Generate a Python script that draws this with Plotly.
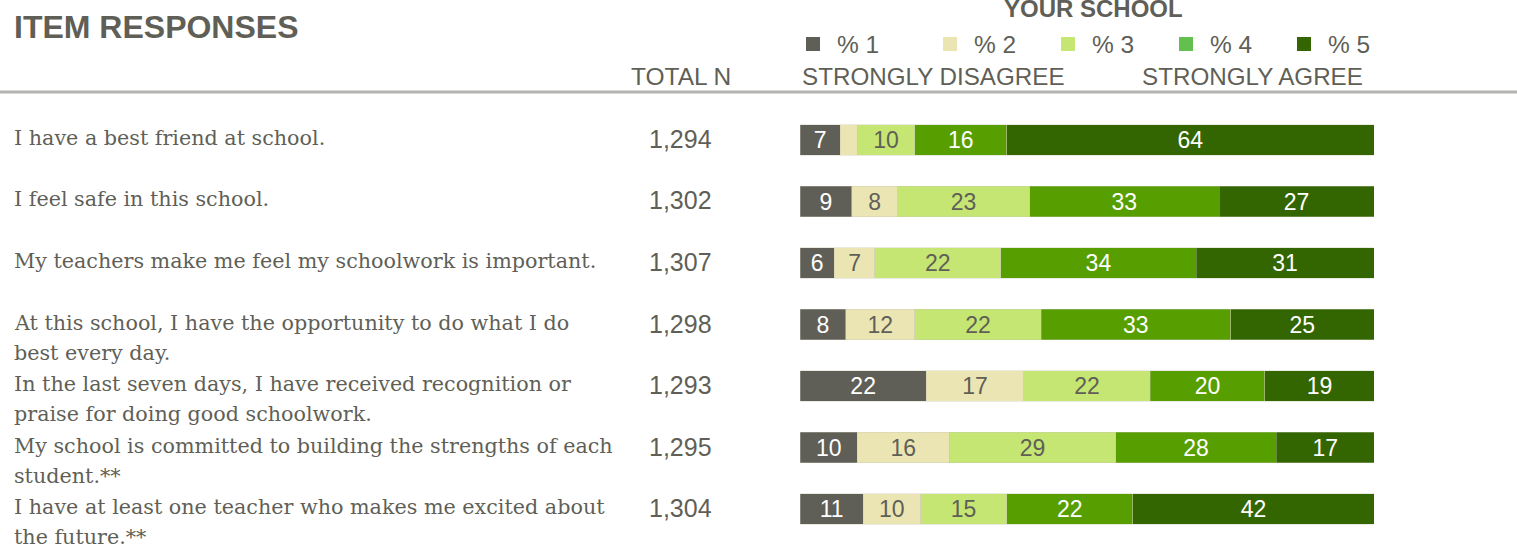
import plotly.graph_objects as go

items = [
    "I have a best friend at school.",
    "I feel safe in this school.",
    "My teachers make me feel my schoolwork is important.",
    "At this school, I have the opportunity to do what I do<br>best every day.",
    "In the last seven days, I have received recognition or<br>praise for doing good schoolwork.",
    "My school is committed to building the strengths of each<br>student.**",
    "I have at least one teacher who makes me excited about<br>the future.**",
]
total_n = ["1,294", "1,302", "1,307", "1,298", "1,293", "1,295", "1,304"]

series_names = ["% 1", "% 2", "% 3", "% 4", "% 5"]
pct1 = [7, 9, 6, 8, 22, 10, 11]
pct2 = [3, 8, 7, 12, 17, 16, 10]
pct3 = [10, 23, 22, 22, 22, 29, 15]
pct4 = [16, 33, 34, 33, 20, 28, 22]
pct5 = [64, 27, 31, 25, 19, 17, 42]
series_values = [pct1, pct2, pct3, pct4, pct5]

bar_colors = ["#5f5f57", "#ebe5b4", "#c5e673", "#579f00", "#336600"]
legend_colors = ["#5f5f57", "#ebe5b4", "#c5e673", "#63c04e", "#336600"]
text_colors = ["#ffffff", "#5f5f57", "#5f5f57", "#ffffff", "#ffffff"]

GRAY = "#5f5f57"
W, H = 1517, 545

cats = [str(i) for i in range(len(items))]

fig = go.Figure()
for name, vals, col, tcol in zip(series_names, series_values, bar_colors, text_colors):
    fig.add_trace(go.Bar(
        y=cats, x=vals, orientation="h", name=name,
        marker=dict(color=col, line=dict(color="rgba(200,200,180,0.6)", width=0.6)),
        text=[str(v) if v >= 5 else "" for v in vals],
        textposition="inside", insidetextanchor="middle", textangle=0,
        textfont=dict(family="Liberation Sans, Arial", size=23, color=tcol),
        constraintext="none",
        width=0.5, showlegend=False, hoverinfo="skip",
    ))

row_px = 61.5
top_px = 140 - row_px / 2
bot_px = 509 + row_px / 2

fig.update_layout(
    width=W, height=H, barmode="stack",
    margin=dict(l=0, r=0, t=0, b=0),
    plot_bgcolor="white", paper_bgcolor="white",
    xaxis=dict(domain=[800 / W, 1374 / W], range=[0, 100], visible=False, fixedrange=True),
    yaxis=dict(domain=[1 - bot_px / H, 1 - top_px / H], categoryorder="array",
               categoryarray=cats, autorange="reversed", visible=False, fixedrange=True),
    uniformtext=dict(mode=False),
)

ann = []
serif = "DejaVu Serif, Georgia, serif"
sans = "Liberation Sans, Arial, sans-serif"
for c, label, n in zip(cats, items, total_n):
    for k, line in enumerate(label.split("<br>")):
        ann.append(dict(x=14 / W, xref="paper", xanchor="left", y=c, yref="y", xshift=-2,
                        yanchor="middle", yshift=2 - 30 * k, text=line, showarrow=False,
                        font=dict(family=serif, size=20.7, color=GRAY)))
    ann.append(dict(x=714 / W, xref="paper", xanchor="right", y=c, yref="y",
                    yanchor="middle", yshift=1, text=n, showarrow=False,
                    font=dict(family=sans, size=25, color=GRAY)))

# headers
ann.append(dict(x=14 / W, y=1 - 27 / H, xref="paper", yref="paper", xanchor="left", yanchor="middle",
                xshift=-2, text="<b>ITEM RESPONSES</b>", showarrow=False,
                font=dict(family=sans, size=32, color=GRAY)))
ann.append(dict(x=731 / W, y=1 - 77 / H, xref="paper", yref="paper", xanchor="right", yanchor="middle",
                xshift=2, text="TOTAL N", showarrow=False, font=dict(family=sans, size=24.5, color=GRAY)))
ann.append(dict(x=1093 / W, y=1 - 9 / H, xref="paper", yref="paper", xanchor="center", yanchor="middle",
                text="<b>YOUR SCHOOL</b>", showarrow=False, font=dict(family=sans, size=24, color=GRAY)))
ann.append(dict(x=803 / W, y=1 - 77 / H, xref="paper", yref="paper", xanchor="left", yanchor="middle",
                xshift=-3, text="STRONGLY DISAGREE", showarrow=False,
                font=dict(family=sans, size=24.2, color=GRAY)))
ann.append(dict(x=1143 / W, y=1 - 77 / H, xref="paper", yref="paper", xanchor="left", yanchor="middle",
                xshift=-3, text="STRONGLY AGREE", showarrow=False,
                font=dict(family=sans, size=24.2, color=GRAY)))

shapes = []
legend_x = [806, 943, 1061, 1179, 1297]
for lx, name, col in zip(legend_x, series_names, legend_colors):
    shapes.append(dict(type="rect", xref="paper", yref="paper", x0=lx / W, x1=(lx + 14) / W,
                       y0=1 - 51 / H, y1=1 - 37 / H, fillcolor=col, line=dict(width=0)))
    ann.append(dict(x=(lx + 31) / W, y=1 - 44 / H, xref="paper", yref="paper", xanchor="left",
                    yanchor="middle", xshift=-2, text=name,
                    showarrow=False, font=dict(family=sans, size=24.5, color=GRAY)))

shapes.append(dict(type="line", xref="paper", yref="paper", x0=0, x1=1, y0=1 - 92 / H, y1=1 - 92 / H,
                   line=dict(color="#b4b4b2", width=3)))

fig.update_layout(annotations=ann, shapes=shapes)
fig.write_html("out.html", config={"displayModeBar": False},
               post_script="document.body.style.margin='0';document.body.style.overflow='hidden';")
